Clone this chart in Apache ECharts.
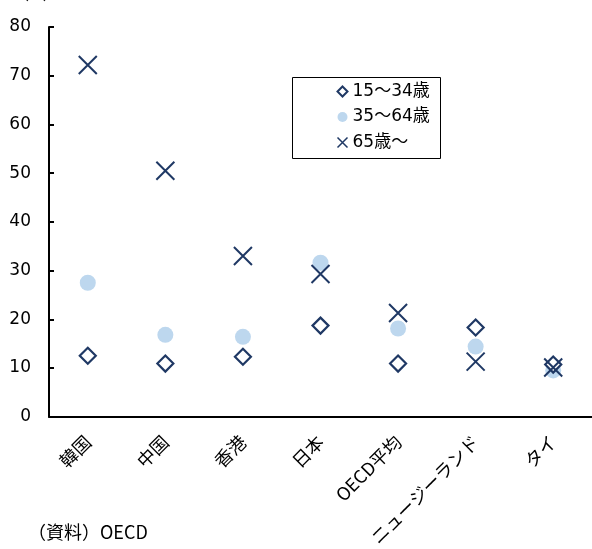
<!DOCTYPE html>
<html>
<head>
<meta charset="utf-8">
<script src="https://cdn.jsdelivr.net/npm/echarts@6/dist/echarts.min.js"></script>
<style>
  html, body { margin: 0; padding: 0; background: #fff; }
  #chart { width: 592px; height: 549px; }
</style>
</head>
<body>
<div id="chart"></div>
<script>
// Age-group figures by country / region (%)
const categories = ['韓国', '中国', '香港', '日本', 'OECD平均', 'ニュージーランド', 'タイ'];
const age15to34 = [12.5, 10.9, 12.3, 18.7, 10.9, 18.3, 10.7];
const age35to64 = [27.5, 16.8, 16.4, 31.6, 18.1, 14.4, 9.5];
const age65plus = [72.2, 50.5, 33.0, 29.3, 21.3, 11.3, 10.1];
const seriesNames = ['15～34歳', '35～64歳', '65歳～'];
const yTicks = { min: 0, max: 80, interval: 10 };

const navy = '#1F3864';
const lightBlue = '#BDD7EE';
const numFont = '"DejaVu Sans", "Noto Sans CJK JP", sans-serif';
const cjkFont = '"Noto Sans CJK JP", sans-serif';
const crossPath = 'path://M0,0L10,10M10,0L0,10';

const chart = echarts.init(document.getElementById('chart'));
chart.setOption({
  animation: false,
  backgroundColor: '#fff',
  textStyle: { fontFamily: numFont },
  grid: { left: 49, right: -4, top: 27, bottom: 132 },
  legend: {
    orient: 'vertical',
    left: 335,
    top: 83,
    padding: 0,
    itemGap: 8.5,
    itemWidth: 10,
    itemHeight: 10,
    textStyle: { fontFamily: numFont, fontSize: 17, lineHeight: 17, color: '#000' },
    data: [
      { name: seriesNames[0], icon: 'diamond', itemStyle: { color: '#fff', borderColor: navy, borderWidth: 2 } },
      { name: seriesNames[1], icon: 'circle', itemStyle: { color: lightBlue } },
      { name: seriesNames[2], icon: crossPath, itemStyle: { color: 'none', borderColor: navy, borderWidth: 1.5 } }
    ]
  },
  xAxis: {
    type: 'category',
    data: categories,
    boundaryGap: true,
    axisLine: { lineStyle: { color: '#000', width: 2 } },
    axisTick: { show: false },
    axisLabel: {
      rotate: 45,
      margin: 22,
      fontSize: 18,
      color: '#000',
      fontFamily: cjkFont,
      interval: 0
    },
    splitLine: { show: false }
  },
  yAxis: {
    type: 'value',
    min: yTicks.min,
    max: yTicks.max,
    interval: yTicks.interval,
    axisLine: { show: true, lineStyle: { color: '#000', width: 2 } },
    axisTick: { show: true, inside: true, length: 5, lineStyle: { color: '#000', width: 2 } },
    axisLabel: { fontSize: 17, color: '#000', margin: 18, fontFamily: numFont },
    splitLine: { show: false }
  },
  series: [
    {
      name: seriesNames[0],
      type: 'scatter',
      data: age15to34,
      symbol: 'diamond',
      symbolSize: 16,
      z: 3,
      itemStyle: { color: '#fff', borderColor: navy, borderWidth: 2.2, opacity: 1 }
    },
    {
      name: seriesNames[1],
      type: 'scatter',
      data: age35to64,
      symbol: 'circle',
      symbolSize: 16,
      z: 2,
      itemStyle: { color: lightBlue, opacity: 1 }
    },
    {
      name: seriesNames[2],
      type: 'scatter',
      data: age65plus,
      symbol: crossPath,
      symbolSize: 18,
      z: 4,
      itemStyle: { color: 'none', borderColor: navy, borderWidth: 2, opacity: 1 }
    }
  ],
  graphic: [
    {
      // legend frame
      type: 'rect',
      shape: { x: 292.5, y: 77.5, width: 148, height: 81 },
      style: { fill: 'none', stroke: '#000', lineWidth: 1 },
      z: 10
    },
    {
      type: 'text',
      left: 14,
      top: -13,
      style: { text: '（%）', fontSize: 15, fill: '#000', fontFamily: cjkFont }
    },
    {
      type: 'text',
      left: 28,
      top: 523,
      style: { text: '（資料）OECD', fontSize: 18, fill: '#000', fontFamily: cjkFont }
    }
  ]
});
</script>
</body>
</html>
